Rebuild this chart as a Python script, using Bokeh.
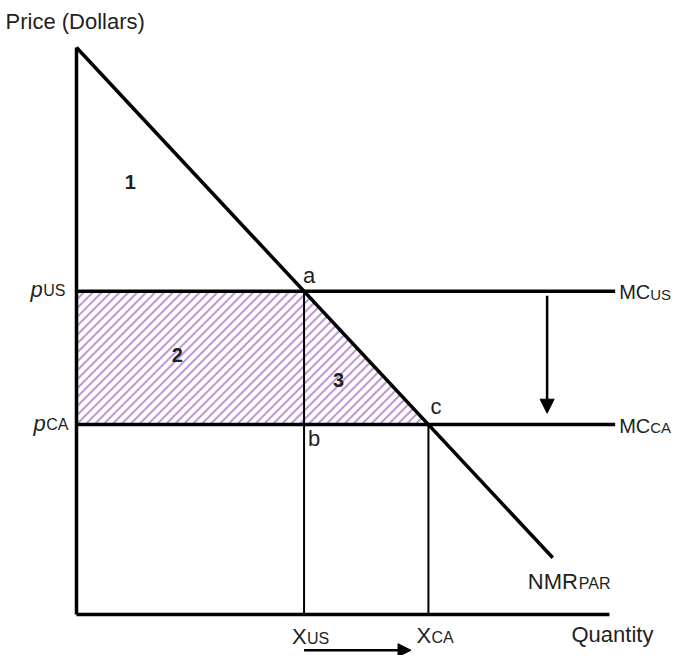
import numpy as np
from bokeh.plotting import figure
from bokeh.models import Range1d, Arrow, NormalHead
from bokeh.core.properties import value
from bokeh.embed import file_html
from bokeh.resources import INLINE

# ---- data (schematic economic diagram) ----
nmr_q = [0, 84]          # NMR_PAR demand line: quantity endpoints
nmr_p = [100, 10]        # NMR_PAR demand line: price endpoints
mc_us = 57.0             # marginal cost / price in US
mc_ca = 33.5             # marginal cost / price in Canada
q_axis_end = 94          # length of quantity axis
mc_line_end = 95         # length of MC lines
p_axis_top = 100         # top of price axis
shift_end_q = 59         # end of the quantity-shift arrow

# derived intersections with the NMR line
slope = (nmr_p[1] - nmr_p[0]) / (nmr_q[1] - nmr_q[0])
x_us = (mc_us - nmr_p[0]) / slope
x_ca = (mc_ca - nmr_p[0]) / slope

FONT = value("Liberation Sans")
MAIN = "22px"
SUB = "16px"
K = 5.67  # px per unit
OX, OY = 76, 614

W, H = 672, 655
p = figure(width=W, height=H, output_backend="svg", toolbar_location=None,
           x_range=Range1d(-OX / K, (W - OX) / K),
           y_range=Range1d(-(H - OY) / K, OY / K),
           min_border=0, outline_line_color=None)
p.axis.visible = False
p.grid.visible = False
p.background_fill_color = "white"

# ---- hatched areas 2 + 3: diagonal lines clipped to the welfare polygon ----
poly = np.array([[0, mc_ca], [0, mc_us], [x_us, mc_us], [x_ca, mc_ca]], dtype=float)
th = np.radians(45)
dvec = np.array([np.cos(th), np.sin(th)])
nvec = np.array([-np.sin(th), np.cos(th)])
cen = poly.mean(axis=0)
proj = poly @ nvec
spacing = 6.3 / K
hx0, hy0, hx1, hy1 = [], [], [], []
for c in np.arange(proj.min() + spacing / 2, proj.max(), spacing):
    p0 = nvec * c
    tmin, tmax = -1e9, 1e9
    for i in range(len(poly)):
        a, b = poly[i], poly[(i + 1) % len(poly)]
        e = b - a
        en = np.array([-e[1], e[0]])
        if (cen - a) @ en < 0:
            en = -en
        num = (p0 - a) @ en
        den = dvec @ en
        if abs(den) < 1e-12:
            if num < 0:
                tmin, tmax = 1, 0
            continue
        t = -num / den
        if den > 0:
            tmin = max(tmin, t)
        else:
            tmax = min(tmax, t)
    if tmax > tmin:
        s0, s1 = p0 + tmin * dvec, p0 + tmax * dvec
        hx0.append(s0[0]); hy0.append(s0[1]); hx1.append(s1[0]); hy1.append(s1[1])
p.segment(hx0, hy0, hx1, hy1, line_color="#c09ad5", line_width=2.1)

# verticals
p.line([x_us, x_us], [0, mc_us], line_color="black", line_width=2)
p.line([x_ca, x_ca], [0, mc_ca], line_color="black", line_width=2)

# MC lines
p.line([0, mc_line_end], [mc_us, mc_us], line_color="black", line_width=3.5)
p.line([0, mc_line_end], [mc_ca, mc_ca], line_color="black", line_width=3.5)

# NMR line
p.line(nmr_q, nmr_p, line_color="black", line_width=3.5)

# axes
p.line([0, 0], [0, p_axis_top], line_color="black", line_width=3.5)
p.line([0, q_axis_end], [0, 0], line_color="black", line_width=3.5)

def txt(x, y, s, dx=0, dy=0, size=MAIN, align="left", base="alphabetic", style="normal"):
    p.text(x=[x], y=[y], text=[s], x_offset=dx, y_offset=dy,
           text_font=FONT, text_font_size=size, text_align=align,
           text_baseline=base, text_color="#231f20", text_font_style=style)

# axis titles
txt(0, p_axis_top, "Price (Dollars)", dx=-71, dy=-26)
txt(q_axis_end, 0, "Quantity", dx=-38, dy=20)

# price labels
txt(0, mc_us, "p", dx=-46, dy=-2, style="italic")
txt(0, mc_us, "US", dx=-11, dy=-1, size=SUB, align="right")
txt(0, mc_ca, "p", dx=-43, dy=-1, style="italic")
txt(0, mc_ca, "CA", dx=-8, dy=0, size=SUB, align="right")

# MC labels
txt(mc_line_end, mc_us, "MC", dx=4, dy=1, size="20px")
txt(mc_line_end, mc_us, "US", dx=35, dy=3, size="15px")
txt(mc_line_end, mc_ca, "MC", dx=4, dy=1, size="20px")
txt(mc_line_end, mc_ca, "CA", dx=35, dy=3, size="15px")

# NMR label
txt(nmr_q[1], nmr_p[1], "NMR", dx=-25, dy=24)
txt(nmr_q[1], nmr_p[1], "PAR", dx=26, dy=26, size=SUB)

# quantity labels
txt(x_us, 0, "X", dx=-12, dy=22)
txt(x_us, 0, "US", dx=3, dy=24, size=SUB)
txt(x_ca, 0, "X", dx=-12, dy=21)
txt(x_ca, 0, "CA", dx=3, dy=23, size=SUB)

# point labels
txt(x_us, mc_us, "a", dx=-1, dy=-16)
txt(x_us, mc_ca, "b", dx=4, dy=14)
txt(x_ca, mc_ca, "c", dx=2, dy=-18)

# area numbers
txt(9.5, 76.3, "1", size="20px", style="bold", align="center", base="middle")
txt(17.8, 45.7, "2", size="20px", style="bold", align="center", base="middle")
txt(46.2, 41.3, "3", size="20px", style="bold", align="center", base="middle")

# arrows
p.add_layout(Arrow(end=NormalHead(size=14, fill_color="black", line_color="black"),
                   x_start=83, y_start=mc_us - 0.8, x_end=83, y_end=mc_ca + 2,
                   line_color="black", line_width=2.5))
p.add_layout(Arrow(end=NormalHead(size=13, fill_color="black", line_color="black"),
                   x_start=x_us, y_start=-6.3, x_end=shift_end_q, y_end=-6.3,
                   line_color="black", line_width=2.5))

open("out.html", "w").write(file_html(p, INLINE))
